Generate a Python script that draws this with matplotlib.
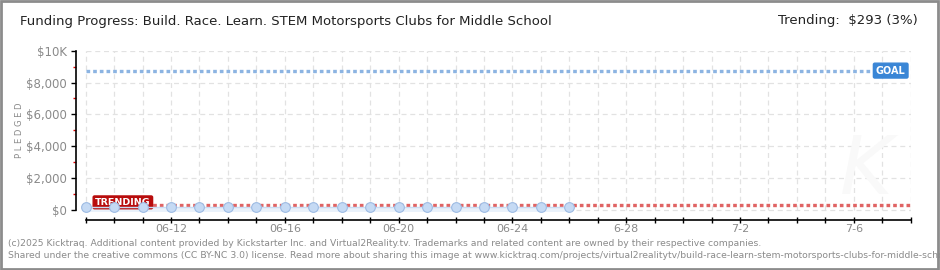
import numpy as np
import pandas as pd
import matplotlib
matplotlib.use('Agg')
import matplotlib.pyplot as plt
import matplotlib.dates as mdates
from matplotlib import font_manager
from matplotlib.patches import Rectangle

# Data
days = pd.date_range('2025-06-09', '2025-06-26', freq='D')
pledged = [200, 200, 200, 200, 200, 200, 200, 200, 200,
           200, 200, 200, 200, 200, 200, 200, 200, 200]
goal = 8750
trending = 293
trend_pct = 3
axis_start = pd.Timestamp('2025-06-09')
axis_end = pd.Timestamp('2025-07-08')
label_days = ['2025-06-12', '2025-06-16', '2025-06-20', '2025-06-24',
              '2025-06-28', '2025-07-02', '2025-07-06']
label_text = ['06-12', '06-16', '06-20', '06-24', '6-28', '7-2', '7-6']
y_ticks = [0, 2000, 4000, 6000, 8000, 10000]
y_text = ['$0', '$2,000', '$4,000', '$6,000', '$8,000', '$10K']

title = 'Funding Progress: Build. Race. Learn. STEM Motorsports Clubs for Middle School'
footer1 = ('(c)2025 Kicktraq. Additional content provided by Kickstarter Inc. and Virtual2Reality.tv. '
           'Trademarks and related content are owned by their respective companies.')
footer2 = ('Shared under the creative commons (CC BY-NC 3.0) license. Read more about sharing this image at '
           'www.kicktraq.com/projects/virtual2realitytv/build-race-learn-stem-motorsports-clubs-for-middle-school/')

# pick a narrow font if there is one
names = set(f.name for f in font_manager.fontManager.ttflist)
narrow = 'Liberation Sans Narrow' if 'Liberation Sans Narrow' in names else 'DejaVu Sans'
plt.rcParams['font.family'] = [narrow, 'DejaVu Sans']

W, H = 940, 270
fig = plt.figure(figsize=(W / 100, H / 100), dpi=100)
fig.patch.set_facecolor('white')

# axes box in pixels: x 76..910.7, y 50.7..220.3
ax = fig.add_axes([76 / W, 1 - 220.3 / H, (910.7 - 76) / W, (220.3 - 50.7) / H])
ax.set_facecolor('none')
x0 = mdates.date2num(axis_start)
x1 = mdates.date2num(axis_end)
ax.set_xlim(x0 - 0.34, x1)
ax.set_ylim(-647, 10000)

# faint watermark
fig.text(866 / W, 1 - 172 / H, 'K', fontsize=58, color='#f9f9f9', ha='center', va='center',
         style='italic', family='DejaVu Sans', zorder=0)

# grid
grid_days = mdates.date2num(pd.date_range(axis_start, axis_end, freq='D'))
ax.vlines(grid_days, 0, 10000, colors='#e2e2e2', linestyles=(0, (4, 3)), lw=0.9, zorder=0)
ax.hlines(y_ticks, x0, x1, colors='#e2e2e2', linestyles=(0, (4, 3)), lw=0.9, zorder=0)

# goal and trending lines
ax.plot([x0, mdates.date2num(pd.Timestamp('2025-07-06')) + 0.6], [goal, goal],
        color='#8cb4e2', lw=2.4, ls=(0, (1.1, 0.9)), zorder=2)
ax.plot([x0, x1], [trending, trending], color='#e06464', lw=2.4, ls=(0, (1.1, 0.9)), zorder=3)

# labels on the lines
ax.text(x0 + 0.33, 480, 'TRENDING', color='white', fontsize=6.8, fontweight='bold', va='center',
        ha='left', family='DejaVu Sans', zorder=4,
        bbox=dict(boxstyle='round,pad=0.2,rounding_size=0.15', fc='#b80c0c', ec='#b80c0c'))
ax.text(x1 - 0.18, goal, 'GOAL', color='white', fontsize=7, fontweight='bold', va='center',
        ha='right', family='DejaVu Sans', zorder=6,
        bbox=dict(boxstyle='round,pad=0.25,rounding_size=0.15', fc='#3a86d6', ec='#3a86d6'))

# pledged series
xd = mdates.date2num(days)
ax.fill_between(xd, -120, pledged, color='#eaf2fb', zorder=1, lw=0)
ax.plot(xd, pledged, color='#c9dcf3', lw=1, zorder=7)
ax.plot(xd, pledged, 'o', ms=7, mfc='#c5daf4', mec='#9dbbe3', mew=0.8, zorder=8)

# spines
for s in ['top', 'right']:
    ax.spines[s].set_visible(False)
ax.spines['left'].set_bounds(0, 10000)
ax.spines['bottom'].set_bounds(x0, x1)
ax.spines['left'].set_color('black')
ax.spines['bottom'].set_color('black')
ax.spines['left'].set_linewidth(1.2)
ax.spines['bottom'].set_linewidth(1.2)

# y ticks
ax.set_yticks(y_ticks)
ax.set_yticklabels(y_text)
ax.set_yticks([1000, 3000, 5000, 7000, 9000], minor=True)
ax.tick_params(axis='y', which='major', direction='out', length=3.5, width=1, color='black',
               labelcolor='#8a8a8a', labelsize=8.5, pad=3)
ax.tick_params(axis='y', which='minor', direction='out', length=2.5, width=1, color='#e00000')

# x ticks
ax.set_xticks(grid_days, minor=True)
ax.set_xticks(mdates.date2num(pd.to_datetime(label_days)))
ax.set_xticklabels(label_text)
ax.tick_params(axis='x', which='both', direction='inout', length=4.5, width=1, color='black',
               labelcolor='#8a8a8a', labelsize=8, pad=0.5)

fig.text(20 / W, 1 - 130 / H, 'P L E D G E D', rotation=90, color='#8a8a8a', fontsize=6,
         va='center', ha='center')

# header texts
fig.text(20 / W, 1 - 22 / H, title, fontsize=9.5, color='#222222', va='center', ha='left')
fig.text(918 / W, 1 - 21 / H, 'Trending:  $%d (%d%%)' % (trending, trend_pct), fontsize=9.5,
         color='#222222', va='center', ha='right')

# footer
fig.text(8 / W, 1 - 243 / H, footer1, fontsize=6.7, color='#8a8a8a', va='center', ha='left')
fig.text(8 / W, 1 - 255 / H, footer2, fontsize=6.7, color='#8a8a8a', va='center', ha='left')

# frame
fig.patches.append(Rectangle((0.001, 0.002), 0.997, 0.995, transform=fig.transFigure,
                             fill=False, ec='#8c8c8c', lw=2))

fig.savefig('out.png', dpi=100)
